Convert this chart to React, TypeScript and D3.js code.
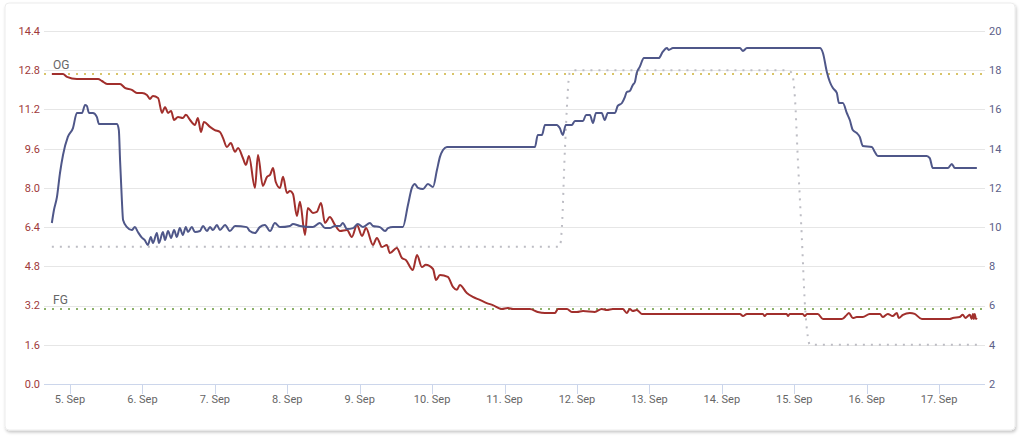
import React from "react";
import * as d3 from "d3";

// hours since 5 Sep 00:00, value
const gravity: [number, number][] = [
  [-6.0, 12.65], [-2.3, 12.65], [-1.0, 12.53], [2.3, 12.44], [9.3, 12.44], [10.6, 12.36], [12.3, 12.24], [16.6, 12.24],
  [18.2, 12.08], [20.5, 12.0], [22.2, 11.87], [23.9, 11.87], [25.5, 11.79], [26.5, 11.63], [27.5, 11.75], [29.2, 11.67],
  [30.5, 11.06], [31.5, 11.3], [32.5, 11.06], [33.5, 11.14], [34.5, 10.77], [35.8, 10.89], [37.4, 10.85], [38.4, 10.98],
  [39.8, 10.77], [41.4, 10.57], [42.4, 10.85], [43.4, 10.28], [44.4, 10.69], [46.4, 10.49], [48.0, 10.36], [49.7, 10.28],
  [50.7, 10.04], [52.0, 9.67], [53.3, 9.83], [54.7, 9.47], [55.7, 9.63], [57.3, 9.22], [58.3, 8.94], [59.3, 9.3],
  [61.3, 8.0], [62.3, 9.34], [63.9, 8.08], [65.3, 8.45], [66.3, 8.53], [67.3, 8.81], [68.2, 8.24], [69.6, 8.0],
  [70.6, 8.45], [71.9, 7.79], [72.9, 7.87], [73.9, 7.75], [75.2, 6.85], [76.2, 7.43], [77.9, 6.08], [78.8, 7.18],
  [80.5, 6.98], [81.8, 7.02], [83.2, 7.38], [84.5, 6.57], [86.1, 6.81], [87.8, 6.49], [89.5, 6.24], [91.8, 6.28],
  [93.4, 6.0], [95.1, 6.49], [96.8, 6.04], [98.1, 6.36], [100.4, 5.67], [101.7, 5.96], [103.4, 5.59], [105.0, 5.67],
  [106.0, 5.34], [108.3, 5.55], [110.0, 5.14], [111.3, 5.06], [113.6, 4.65], [115.0, 5.26], [116.6, 4.77], [117.9, 4.86],
  [120.3, 4.69], [121.3, 4.24], [122.6, 4.45], [125.2, 4.37], [126.9, 3.96], [128.2, 3.84], [129.2, 4.04], [131.5, 3.71],
  [133.5, 3.55], [135.8, 3.43], [138.1, 3.3], [140.1, 3.22], [143.1, 3.06], [145.1, 3.1], [146.8, 3.06], [152.4, 3.06],
  [155.0, 2.94], [157.4, 2.9], [160.7, 2.9], [161.7, 3.06], [164.7, 3.06], [166.3, 2.94], [168.0, 2.94], [170.0, 2.98],
  [173.9, 2.94], [176.2, 3.06], [177.9, 3.02], [179.9, 3.06], [183.2, 3.06], [184.5, 2.9], [185.5, 3.06], [186.5, 2.98],
  [187.8, 3.02], [189.5, 2.86], [222.0, 2.86], [223.0, 2.77], [224.3, 2.86], [229.6, 2.86], [230.2, 2.77], [230.9, 2.86],
  [237.5, 2.86], [237.9, 2.77], [238.5, 2.86], [242.8, 2.86], [243.5, 2.77], [244.2, 2.86], [247.8, 2.86], [249.5, 2.65],
  [255.8, 2.65], [257.4, 2.82], [258.1, 2.9], [259.4, 2.69], [260.7, 2.73], [262.7, 2.73], [265.0, 2.86], [268.4, 2.86],
  [269.3, 2.73], [271.0, 2.86], [272.6, 2.77], [274.0, 2.9], [274.6, 2.69], [276.0, 2.82], [278.3, 2.9], [279.9, 2.86],
  [282.3, 2.65], [291.5, 2.65], [292.5, 2.69], [294.8, 2.73], [295.8, 2.82], [296.8, 2.69], [297.5, 2.77], [298.2, 2.82],
  [298.8, 2.65], [299.2, 2.86], [299.5, 2.65], [299.8, 2.86], [300.2, 2.65], [300.5, 2.69],
];

const temperature: [number, number][] = [
  [-6.0, 10.21], [-5.3, 10.87], [-4.3, 11.54], [-3.3, 12.76], [-2.3, 13.68], [-0.7, 14.6], [1.0, 15.05], [2.3, 15.82],
  [4.0, 15.82], [5.0, 16.23], [5.6, 16.18], [6.3, 15.82], [7.6, 15.82], [8.9, 15.62], [9.6, 15.26], [15.6, 15.26],
  [16.2, 14.95], [16.6, 13.42], [17.2, 11.38], [17.6, 10.36], [18.9, 10.0], [20.5, 9.85], [21.5, 10.0], [22.5, 9.75],
  [23.9, 9.45], [24.8, 9.34], [25.8, 9.09], [26.8, 9.5], [27.5, 9.19], [28.8, 9.7], [29.5, 9.19], [30.8, 9.75],
  [31.5, 9.34], [32.5, 9.8], [33.5, 9.45], [34.5, 9.85], [35.4, 9.5], [36.4, 9.95], [37.4, 9.6], [38.4, 10.0],
  [39.1, 9.75], [40.4, 10.0], [41.4, 9.75], [43.1, 9.8], [44.1, 10.06], [45.4, 9.8], [46.4, 10.0], [47.4, 9.85],
  [48.7, 10.11], [49.7, 9.85], [51.4, 10.11], [53.0, 9.8], [54.7, 10.06], [58.6, 10.0], [59.6, 9.8], [61.3, 9.7],
  [62.9, 10.0], [64.6, 10.11], [66.3, 9.8], [67.9, 10.21], [69.6, 10.0], [72.9, 10.06], [73.9, 10.16], [76.2, 10.06],
  [80.5, 10.0], [82.8, 10.21], [84.5, 9.95], [86.1, 9.95], [87.8, 10.06], [89.5, 10.06], [90.4, 10.21], [91.8, 9.9],
  [93.8, 9.95], [95.4, 10.16], [97.1, 10.0], [99.4, 10.21], [100.4, 10.06], [102.7, 10.0], [104.4, 9.8], [105.4, 9.95],
  [107.0, 10.0], [110.3, 10.0], [112.0, 11.13], [113.3, 12.0], [114.3, 12.2], [115.3, 12.0], [117.0, 11.94], [118.6, 12.2],
  [120.3, 12.05], [121.6, 12.91], [122.6, 13.58], [123.6, 13.93], [124.9, 14.09], [154.1, 14.09], [155.0, 14.7], [156.4, 14.7],
  [157.4, 15.21], [161.3, 15.21], [162.3, 15.05], [163.3, 14.7], [164.3, 15.21], [166.3, 15.21], [167.3, 15.41], [170.0, 15.41],
  [171.0, 15.72], [172.3, 15.72], [173.3, 15.31], [174.3, 15.82], [176.2, 15.82], [177.2, 15.46], [178.2, 15.82], [180.6, 15.82],
  [181.5, 16.18], [182.9, 16.33], [183.9, 16.64], [184.5, 16.89], [185.5, 16.94], [186.5, 17.25], [187.2, 17.4], [187.8, 17.86],
  [188.8, 18.17], [190.2, 18.62], [195.1, 18.62], [196.4, 18.93], [197.8, 19.13], [198.4, 19.03], [199.8, 19.13], [222.0, 19.13],
  [223.0, 18.98], [224.3, 19.13], [248.5, 19.13], [249.5, 18.88], [250.8, 17.91], [251.8, 17.4], [252.8, 17.09], [254.1, 16.84],
  [254.8, 16.33], [256.1, 16.33], [257.4, 15.82], [258.4, 15.46], [259.4, 14.95], [260.7, 14.8], [261.7, 14.6], [262.7, 14.14],
  [265.7, 14.09], [266.7, 13.83], [267.7, 13.63], [283.9, 13.63], [284.9, 13.52], [285.9, 13.01], [290.9, 13.01], [292.2, 13.22],
  [293.2, 13.01], [300.5, 13.01],
];

const targetTemp: [number, number][] = [
  [-6.0, 9], [162.3, 9], [163.0, 10.0], [164.0, 13.93], [165.6, 17.86], [166.6, 18], [237.5, 18], [239.2, 17.86],
  [240.2, 16.64], [241.2, 13.42], [242.5, 9.5], [243.5, 6.13], [244.5, 4.4], [245.2, 4], [300.5, 4],
];

const leftTicks = [0, 1.6, 3.2, 4.8, 6.4, 8.0, 9.6, 11.2, 12.8, 14.4];
const rightTicks = [2, 4, 6, 8, 10, 12, 14, 16, 18, 20];
const og = 12.65;
const fg = 3.06;
const xDomainHours: [number, number] = [-8.6, 303.2];

const W = 1022;
const H = 436;
const base = new Date(2023, 8, 5, 0, 0, 0);
const toDate = (h: number) => new Date(base.getTime() + h * 3600 * 1000);

export default function App() {
  const plot = { left: 44, right: 985, top: 31, bottom: 384 };
  const x = d3.scaleTime().domain(xDomainHours.map(toDate)).range([plot.left, plot.right]);
  const yL = d3.scaleLinear().domain([0, 14.4]).range([plot.bottom, plot.top]);
  const yR = d3.scaleLinear().domain([2, 20]).range([plot.bottom, plot.top]);

  const lineL = d3.line<[number, number]>().x((d) => x(toDate(d[0]))).y((d) => yL(d[1])).curve(d3.curveMonotoneX);
  const lineR = d3.line<[number, number]>().x((d) => x(toDate(d[0]))).y((d) => yR(d[1])).curve(d3.curveMonotoneX);

  const days = d3.timeDay.range(toDate(xDomainHours[0]), toDate(xDomainHours[1]));
  const fmt = d3.timeFormat("%-d. %b");
  const font = "Roboto, 'Noto Sans', sans-serif";

  return (
    <svg width={W} height={H} style={{ position: "absolute", left: 0, top: 0, display: "block" }} fontFamily={font}>
      <defs>
        <filter id="sh" x="-5%" y="-5%" width="110%" height="115%">
          <feDropShadow dx="1" dy="2" stdDeviation="1.6" floodColor="#000" floodOpacity="0.22" />
        </filter>
      </defs>
      <rect x={0} y={0} width={W} height={H} fill="#ffffff" />
      <rect x={5} y={3} width={1010} height={427} rx={4} fill="#fff" stroke="#ececec" filter="url(#sh)" />

      {leftTicks.map((t) => (
        <line key={"g" + t} x1={plot.left} x2={plot.right} y1={Math.round(yL(t)) + 0.5} y2={Math.round(yL(t)) + 0.5}
          stroke={t === 0 ? "#ccd6eb" : "#e6e6e6"} strokeWidth={1} />
      ))}
      {days.map((d) => (
        <line key={"t" + d.getTime()} x1={Math.round(x(d)) + 0.5} x2={Math.round(x(d)) + 0.5} y1={plot.bottom} y2={plot.bottom + 10}
          stroke="#ccd6eb" />
      ))}
      {days.map((d) => (
        <text key={"l" + d.getTime()} x={x(d)} y={403} textAnchor="middle" fontSize={11} fill="#666666">{fmt(d)}</text>
      ))}
      {leftTicks.map((t) => (
        <text key={"ll" + t} x={40} y={yL(t)} dy="0.35em" textAnchor="end" fontSize={11} fill="#a03a3a">{t.toFixed(1)}</text>
      ))}
      {rightTicks.map((t) => (
        <text key={"rl" + t} x={989} y={yR(t)} dy="0.35em" textAnchor="start" fontSize={11} fill="#5c6088">{t}</text>
      ))}

      <line x1={plot.left} x2={plot.right} y1={yL(og)} y2={yL(og)} stroke="#d8c46a" strokeWidth={2} strokeDasharray="2,6" />
      <line x1={plot.left} x2={plot.right} y1={yL(fg)} y2={yL(fg)} stroke="#8db26b" strokeWidth={2} strokeDasharray="2,6" />
      <text x={53} y={yL(og) - 5} fontSize={12} fill="#666666">OG</text>
      <text x={53} y={yL(fg) - 5} fontSize={12} fill="#666666">FG</text>

      <path d={lineR(targetTemp) || ""} fill="none" stroke="#bdbdc4" strokeWidth={2} strokeDasharray="2,6" />
      <path d={lineL(gravity) || ""} fill="none" stroke="#a12f2c" strokeWidth={2} strokeLinejoin="round" />
      <path d={lineR(temperature) || ""} fill="none" stroke="#4f5789" strokeWidth={2} strokeLinejoin="round" />
    </svg>
  );
}
